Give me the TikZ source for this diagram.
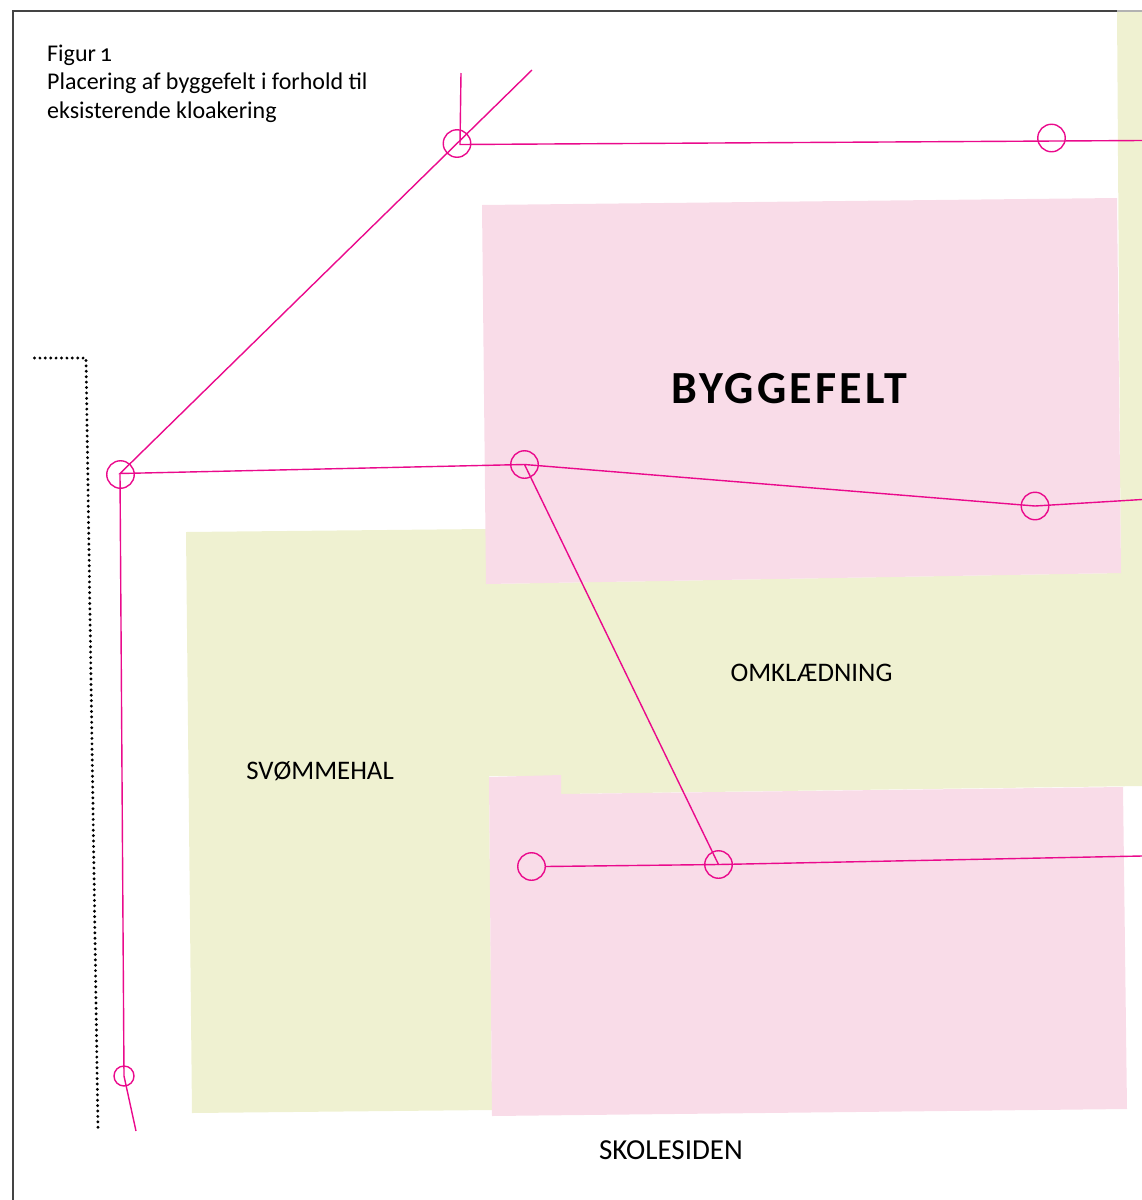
\documentclass[tikz,border=0pt]{standalone}
\usepackage{fontspec}
\setmainfont{Carlito}
\newfontfamily\oldnum[Numbers=OldStyle]{Carlito}
\definecolor{felt}{HTML}{F9DCE8}
\definecolor{hal}{HTML}{EFF1D1}
\definecolor{kloak}{HTML}{EA0A8C}
\definecolor{ramme}{HTML}{444444}
\tikzset{
  brond/.style={circle,draw=kloak,line width=1.4pt,minimum size=#1,inner sep=0pt,outer sep=0pt},
  brond/.default=27.5pt,
  kloakline/.style={draw=kloak,line width=1.4pt,line join=miter},
  mark label/.style={font=\fontsize{26.8}{30}\selectfont,text=black,inner sep=0pt},
  caption/.style={font=\fontsize{24}{28.5}\selectfont,text=black,inner sep=0pt,align=left,anchor=north west},
}
\begin{document}
\begin{tikzpicture}[x=1pt,y=-1pt]
\useasboundingbox (0,0) rectangle (1142,1200);
% field shapes
\fill[hal] (1117,10) -- (1142,10) -- (1142,600) -- (1121,600) -- cycle;
\fill[hal] (186,532) -- (486,529) -- (486,584) -- (1121,573) -- (1142,573) -- (1142,786) -- (561,794) -- (561,776) -- (489,776) -- (492,1110) -- (192,1113) -- cycle;
\fill[felt] (482,205) -- (1117,198) -- (1121,573) -- (486,584) -- cycle;
\fill[felt] (489,777) -- (561,775) -- (561,794) -- (1123,787) -- (1127,1109) -- (492,1116) -- cycle;
% frame
\draw[ramme,line width=1.5pt] (1117,11) -- (13,11) -- (13,1200);
\draw[black!30,line width=1.1pt] (1117,11) -- (1142,11);
% dotted boundary
\coordinate (d1) at (34.5,358);
\coordinate (d2) at (86,358);
\coordinate (d3) at (98,1131);
\draw[black,line width=3.2pt,line cap=round,dash pattern=on 0pt off 5.4pt] (d1) -- (d2) -- (d3);
% manholes
\node[brond] (m1) at (457,143.5) {};
\node[brond] (m2) at (1051.5,138) {};
\node[brond] (m3) at (120.5,474.5) {};
\node[brond] (m4) at (524.5,464.5) {};
\node[brond] (m5) at (1035,506) {};
\node[brond] (m6) at (531.5,866.5) {};
\node[brond] (m7) at (718.5,864.5) {};
\node[brond=20pt] (m8) at (124,1076) {};
% free ends and joints
\coordinate (a) at (461,73);
\coordinate (b) at (460,144.5);
\coordinate (c) at (1142,140.5);
\coordinate (e) at (532,70);
\coordinate (f) at (120,473.5);
\coordinate (g) at (1142,499.5);
\coordinate (h) at (1142,856);
\coordinate (k) at (136,1131);
% pipes
\draw[kloakline] (a) -- (b) -- (c);
\draw[kloakline] (e) -- (f) -- (m4.center) -- (m5.center) -- (g);
\draw[kloakline] (m4.center) -- (m7.center) -- (h);
\draw[kloakline] (m6.east) -- (m7.center);
\draw[kloakline] (f) -- (m8.center) -- (k);
% labels
\node[caption] (cap) at (47,44.5) {Figur\hspace{-1.5pt} {\oldnum 1}\\Placering af byggefelt i forhold til\\eksisterende kloakering};
\node[font=\bfseries\fontsize{46}{50}\selectfont,text=black,inner sep=0pt] (byg) at (789.5,388.5) {\addfontfeature{LetterSpace=7}BYGGEFELT};
\node[mark label] (omk) at (811.5,673) {OMKLÆDNING};
\node[mark label] (svo) at (320,771) {SVØMMEHAL};
\node[mark label,font=\fontsize{29}{32}\selectfont] (sko) at (671,1150.5) {SKOLESIDEN};
\end{tikzpicture}
\end{document}
